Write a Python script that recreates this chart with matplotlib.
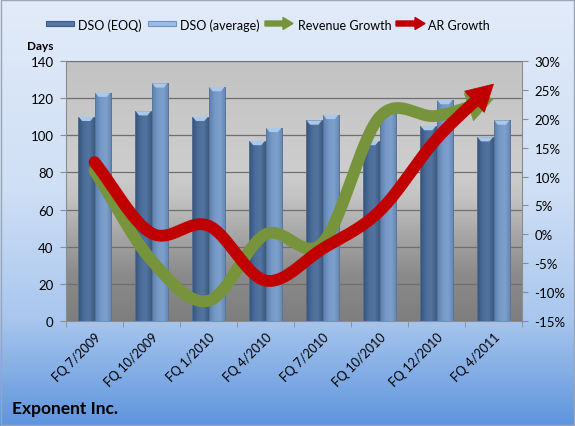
import numpy as np
import matplotlib
matplotlib.use('Agg')
import matplotlib.pyplot as plt
from matplotlib.colors import LinearSegmentedColormap
from matplotlib.patches import Polygon, Rectangle, FancyArrow

plt.rcParams['font.family'] = ['Lato', 'DejaVu Sans']

# data
quarters = ['FQ 7/2009', 'FQ 10/2009', 'FQ 1/2010', 'FQ 4/2010',
            'FQ 7/2010', 'FQ 10/2010', 'FQ 12/2010', 'FQ 4/2011']
dso_eoq = [110, 113, 110, 97, 108, 97, 105, 99]
dso_avg = [123, 128, 126, 104, 111, 113, 119, 108]
revenue_growth = [11.0, -4.5, -11.5, 0.0, -1.5, 20.3, 20.5, 23.5]   # %
ar_growth = [12.5, 0.2, 1.5, -8.0, -2.5, 4.0, 16.5, 26.0]            # %

W, H = 575, 427
fig = plt.figure(figsize=(W / 100, H / 100), dpi=100)

# figure background (pixel coordinates)
bg = fig.add_axes([0, 0, 1, 1], zorder=-10)
bg.set_xlim(0, W)
bg.set_ylim(H, 0)
bg.axis('off')
bg_cmap = LinearSegmentedColormap.from_list(
    'bg', [(0, '#e2ebf9'), (0.45, '#cfdff5'), (0.75, '#a9c6ee'), (1, '#5e95dd')])
bg.imshow(np.linspace(0, 1, 256).reshape(-1, 1), cmap=bg_cmap, aspect='auto',
          extent=[0, W, H, 0])
bg.add_patch(Rectangle((0.5, 0.5), W - 1.5, H - 1.5, fill=False, ec='#9aa6b5', lw=1))

# main axes
left, right, top, bottom = 66, 522, 62, 322
ax = fig.add_axes([left / W, 1 - bottom / H, (right - left) / W, (bottom - top) / H])
x = np.arange(len(quarters))
ax.set_xlim(-0.5, len(quarters) - 0.5)
ax.set_ylim(0, 140)

plot_cmap = LinearSegmentedColormap.from_list(
    'plot', [(0, '#c3c3c3'), (0.42, '#cdcdcd'), (0.52, '#c4c4c4'),
             (0.68, '#a4a4a4'), (0.82, '#8b8b8b'), (1, '#7e7e7e')])
ax.imshow(np.linspace(0, 1, 256).reshape(-1, 1), cmap=plot_cmap, aspect='auto',
          extent=[-0.5, len(quarters) - 0.5, 0, 140], zorder=0)

ax.set_yticks(range(0, 141, 20))
ax.yaxis.grid(True, color='#6f6f6f', lw=0.9, zorder=1)
ax.set_axisbelow(True)

bw = 0.29
eoq_cmap = LinearSegmentedColormap.from_list('eoq', ['#34527a', '#4a6c98', '#52749f', '#3b5a82'])
avg_cmap = LinearSegmentedColormap.from_list('avg', ['#5a7eae', '#7699c7', '#7c9fcc', '#6184b4'])
grad = np.linspace(0, 1, 64).reshape(1, -1)
cap = 2.3  # depth of the light chevron on bar tops, in data units
for xs, vals, cmap in [(x - bw / 2, dso_eoq, eoq_cmap), (x + bw / 2, dso_avg, avg_cmap)]:
    bars = ax.bar(xs, vals, width=bw, color='none', edgecolor='#5d7390', lw=0.6, zorder=3)
    for b in bars:
        x0, w, h = b.get_x(), b.get_width(), b.get_height()
        im = ax.imshow(grad, cmap=cmap, aspect='auto', extent=[x0, x0 + w, 0, h], zorder=2)
        im.set_clip_path(b)
        ax.add_patch(Polygon([(x0 + 0.01, h), (x0 + w - 0.01, h), (x0 + w * 0.75, h - cap),
                              (x0 + w * 0.25, h - cap)], closed=True,
                             fc='#a8c8ec', ec='none', zorder=3))
ax.set_xlim(-0.5, len(quarters) - 0.5)
ax.set_ylim(0, 140)

ax.set_xticks(x)
ax.set_xticklabels(quarters, rotation=45, ha='right', rotation_mode='anchor', fontsize=9)
ax.set_xticks(np.arange(-0.5, len(quarters)), minor=True)
ax.tick_params(axis='x', which='major', length=0, pad=7)
ax.tick_params(axis='x', which='minor', length=4, color='#8c8c8c')
ax.tick_params(axis='y', length=4, color='#8c8c8c', labelsize=9.5, pad=5)
for s in ['top', 'right']:
    ax.spines[s].set_visible(False)
ax.spines['left'].set_color('#8c8c8c')
ax.spines['bottom'].set_color('#8c8c8c')

# secondary axis for growth rates
ax2 = ax.twinx()
ax2.set_ylim(-15, 30)
ax2.set_yticks(range(-15, 31, 5))
ax2.set_yticklabels([f'{v}%' for v in range(-15, 31, 5)])
ax2.tick_params(axis='y', length=4, color='#8c8c8c', labelsize=9.5, pad=5)
for s in ['top', 'left', 'bottom']:
    ax2.spines[s].set_visible(False)
ax2.spines['right'].set_color('#8c8c8c')


def smooth(xs, ys, n=40):
    # uniform Catmull-Rom, like the spreadsheet's smoothed line
    px = np.concatenate([[2 * xs[0] - xs[1]], xs, [2 * xs[-1] - xs[-2]]]).astype(float)
    py = np.concatenate([[2 * ys[0] - ys[1]], ys, [2 * ys[-1] - ys[-2]]]).astype(float)
    t = np.linspace(0, 1, n, endpoint=False)
    ox, oy = [], []
    for i in range(1, len(px) - 2):
        for p, o in ((px, ox), (py, oy)):
            p0, p1, p2, p3 = p[i - 1], p[i], p[i + 1], p[i + 2]
            o.extend(0.5 * (2 * p1 + (-p0 + p2) * t + (2 * p0 - 5 * p1 + 4 * p2 - p3) * t ** 2
                            + (-p0 + 3 * p1 - 3 * p2 + p3) * t ** 3))
    ox.append(xs[-1])
    oy.append(ys[-1])
    return np.array(ox), np.array(oy)


def arrow_line(axis, xs, ys, color, lw=8.5, head_len=26, head_w=29):
    sx, sy = smooth(np.asarray(xs, float), np.asarray(ys, float))
    pts = axis.transData.transform(np.column_stack([sx, sy]))
    seg = np.hypot(*np.diff(pts, axis=0).T)
    back = np.concatenate([np.cumsum(seg[::-1])[::-1], [0]])  # distance to the tip
    keep = back >= head_len
    j = np.where(keep)[0][-1]
    f = (back[j] - head_len) / (back[j] - back[j + 1])
    base = pts[j] + f * (pts[j + 1] - pts[j])
    line = np.vstack([pts[keep], base])
    tip = pts[-1]
    d = (tip - base) / np.hypot(*(tip - base))
    nrm = np.array([-d[1], d[0]])
    head = np.array([base + nrm * head_w / 2, tip, base - nrm * head_w / 2])
    inv = axis.transData.inverted()
    line = inv.transform(line)
    head = inv.transform(head)
    axis.plot(line[:, 0], line[:, 1], color=color, lw=lw, solid_capstyle='round',
              solid_joinstyle='round', zorder=4)
    axis.add_patch(Polygon(head, closed=True, fc=color, ec=color, lw=0.5, zorder=4))


arrow_line(ax2, x, revenue_growth, '#77933c')
arrow_line(ax2, x, ar_growth, '#c00000')

# legend, drawn in pixel coordinates
ly = 24.5
bg.add_patch(Rectangle((46, ly - 2.5), 28, 5, fc='#5677a3', ec='#3e5d86', lw=0.8))
bg.text(78, ly + 1, 'DSO (EOQ)', fontsize=9, va='center', ha='left')
bg.add_patch(Rectangle((148, ly - 2.5), 28, 5, fc='#9bbce6', ec='#6d92c3', lw=0.8))
bg.text(180, ly + 1, 'DSO (average)', fontsize=9, va='center', ha='left')
bg.add_patch(FancyArrow(265, ly, 28, 0, width=5, head_width=12, head_length=10,
                        length_includes_head=True, fc='#77933c', ec='#77933c'))
bg.text(298, ly + 1, 'Revenue Growth', fontsize=9, va='center', ha='left')
bg.add_patch(FancyArrow(396, ly, 29, 0, width=5, head_width=12, head_length=10,
                        length_includes_head=True, fc='#c00000', ec='#c00000'))
bg.text(428, ly + 1, 'AR Growth', fontsize=9, va='center', ha='left')

bg.text(27, 47, 'Days', fontsize=8.5, fontweight='bold', va='center', ha='left')
bg.text(12, 409, 'Exponent Inc.', fontsize=12.5, fontweight='bold', va='center', ha='left')

fig.savefig('out.png', dpi=100)
